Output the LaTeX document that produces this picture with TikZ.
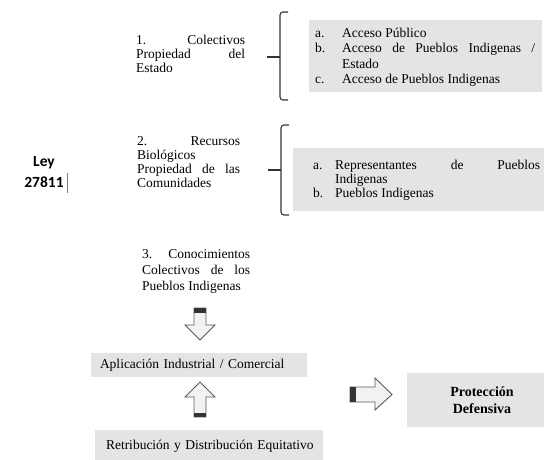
\documentclass[tikz,border=0pt]{standalone}
\usepackage{fontspec}
\setmainfont{Liberation Serif}
\newfontfamily\leyfont{Carlito}
\definecolor{boxgray}{HTML}{E4E4E4}
\definecolor{linedark}{HTML}{333333}
\definecolor{arrowline}{HTML}{5A5A5A}
\definecolor{arrowfill}{HTML}{F2F2F2}
\newcommand\firstline{\rule{0pt}{10pt}}
\begin{document}
\begin{tikzpicture}[x=1pt,y=-1pt,
  body/.style={inner sep=0pt, anchor=north west, align=left},
  graybox/.style={fill=boxgray, draw=none},
  bracket/.style={draw=linedark, line width=1.1pt, rounded corners=3pt},
  blockarrow/.style={draw=arrowline, line width=0.9pt, fill=arrowfill, line join=miter},
  tailstrip/.style={fill=linedark, draw=none},
]
\useasboundingbox (0,0) rectangle (544,459);

% gray boxes
\fill[graybox] (309,20) rectangle (542,92);
\fill[graybox] (293,148) rectangle (544,211);

% Ley
\node[inner sep=0pt, align=center, font=\leyfont\bfseries\fontsize{15.5}{21}\selectfont] (ley) at (44,172) {Ley\\27811};
\draw[gray, line width=0.6pt] (67,173) -- (67,193);

% left texts
\node[body, font=\fontsize{13.5}{14}\selectfont] (t1) at (136,34)
  {\firstline\makebox[109pt][s]{1. Colectivos}\\\makebox[109pt][s]{Propiedad del}\\Estado};
\node[body, font=\fontsize{13.5}{14}\selectfont] (t2) at (137,135)
  {\firstline\makebox[103pt][s]{2. Recursos}\\Biológicos\\\makebox[103pt][s]{Propiedad de las}\\Comunidades};
\node[body, font=\fontsize{13.5}{16}\selectfont] (t3) at (142,248)
  {\firstline\makebox[108pt][s]{3. Conocimientos}\\\makebox[108pt][s]{Colectivos de los}\\Pueblos Indigenas};

% box texts
\node[body, font=\fontsize{13.5}{15.5}\selectfont] (b1) at (315,27)
  {\firstline\makebox[27pt][l]{a.}Acceso Público\\
   \makebox[27pt][l]{b.}\makebox[193pt][s]{Acceso de Pueblos Indigenas /}\\
   \hspace*{27pt}Estado\\
   \makebox[27pt][l]{c.}Acceso de Pueblos Indigenas};
\node[body, font=\fontsize{13.5}{14}\selectfont] (b2) at (313,159)
  {\firstline\makebox[22pt][l]{a.}\makebox[205pt][s]{Representantes de Pueblos}\\
   \hspace*{22pt}Indigenas\\
   \makebox[22pt][l]{b.}Pueblos Indigenas};

% brackets
\coordinate (k1) at (280,57);
\draw[bracket] (288,12) -- (280,12) -- (280,100) -- (288,100);
\draw[linedark, line width=1.1pt] (267,57) -- (k1);
\coordinate (k2) at (281,170);
\draw[bracket] (289,125) -- (281,125) -- (281,215) -- (289,215);
\draw[linedark, line width=1.1pt] (268,170) -- (k2);

% lower boxes
\node[graybox, minimum width=216pt, minimum height=24pt, inner xsep=9pt, text width=198pt, align=left,
      font=\fontsize{13.5}{16}\selectfont] (apl) at (199,365) {Aplicación Industrial / Comercial};
\node[graybox, minimum width=228pt, minimum height=32pt, inner xsep=8pt, text width=212pt, align=left,
      font=\fontsize{13.5}{16}\selectfont] (ret) at (209,446) {\hspace*{3pt}Retribución y Distribución Equitativo};
\node[graybox, minimum width=150pt, minimum height=54pt, align=center,
      font=\bfseries\fontsize{14}{17}\selectfont] (prot) at (482,400) {Protección\\Defensiva};

% block arrows
\draw[blockarrow] (194,308) -- (206,308) -- (206,325) -- (215,325) -- (200,340) -- (185,325) -- (194,325) -- cycle;
\fill[tailstrip] (194,308) rectangle (206,312.5);
\draw[blockarrow] (194,417) -- (206,417) -- (206,397) -- (215,397) -- (200,382) -- (185,397) -- (194,397) -- cycle;
\fill[tailstrip] (194,412.5) rectangle (206,417);
\draw[blockarrow] (350,387) -- (375,387) -- (375,378) -- (392,394.5) -- (375,410) -- (375,402) -- (350,402) -- cycle;
\fill[tailstrip] (350,387) rectangle (356,402);
\end{tikzpicture}
\end{document}
